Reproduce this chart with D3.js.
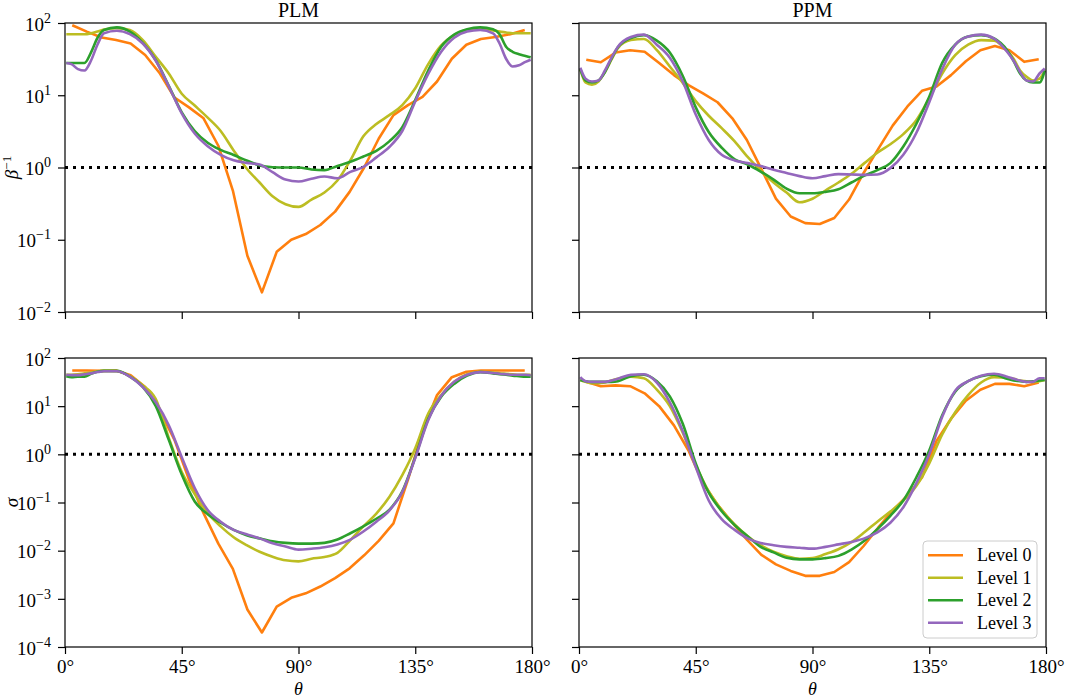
<!DOCTYPE html>
<html><head><meta charset="utf-8">
<script src="https://cdn.jsdelivr.net/npm/d3@7"></script>
<style>
body{margin:0;background:#fff}
svg{display:block}
text{font-family:"Liberation Serif","DejaVu Serif",serif;fill:#000}
</style>
</head><body>
<svg id="chart" width="1065" height="699"></svg>
<script>
// ---------------- DATA ----------------
const levels = ["Level 0", "Level 1", "Level 2", "Level 3"];
const colors = ["#ff7f0e", "#bcbd22", "#2ca02c", "#9467bd"];
const xTicks = [0, 45, 90, 135, 180];
const betaTicks = [-2, -1, 0, 1, 2];
const sigmaTicks = [-4, -3, -2, -1, 0, 1, 2];

// Level 0 cell centres (deg)
const thetaL0 = [2.8,8.4,14.1,19.7,25.3,30.9,36.6,42.2,47.8,53.4,59.1,64.7,70.3,75.9,81.6,87.2,92.8,98.4,104.1,109.7,115.3,120.9,126.6,132.2,137.8,143.4,149.1,154.7,160.3,165.9,171.6,177.2];
// sample angles for levels 1-3 (deg)
const thetaFine = [0.5,2.5,5,7.5,10,12.5,15,20,25,30,35,40,45,50,55,60,65,70,75,80,85,90,95,100,105,110,115,120,125,130,135,140,145,150,155,160,165,167.5,170,172.5,175,177.5,179.5];

// PLM, beta^-1
const plmBeta0 = [93,76,63,58,52,36,20,9.3,6.8,4.8,2.0,0.48,0.06,0.0187,0.068,0.1,0.12,0.16,0.245,0.46,1.0,2.5,5.3,7.3,9.5,15.5,32,50,60,64,70,80];
const plmBeta1 = [70,70,70,70,72,76,81,85,80,58,34,20,10.5,7.2,4.9,3.2,1.72,0.97,0.62,0.4,0.31,0.285,0.36,0.45,0.66,1.26,2.7,4.0,5.3,7.3,12.5,27,49,68,80,82,79,76,74,72,72,72,72];
const plmBeta2 = [28,28,28,28,39,62,80,87,76,53,30.5,13.5,5.8,3.2,2.2,1.75,1.49,1.25,1.07,1.01,1.0,1.0,0.94,0.92,1.05,1.2,1.42,1.7,2.3,3.6,8.6,22,47,69,82,87,82,70,47,40,37,35,33.5];
const plmBeta3 = [28,27,23,22,30,50,72,78,70,52,30,13.3,5.6,2.95,1.97,1.5,1.26,1.16,1.1,0.86,0.68,0.64,0.7,0.75,0.71,0.87,1.02,1.38,1.92,3.2,8.2,19.7,40,62.5,76,80,72,52,32,25,26,29,31];

// PPM, beta^-1
const ppmBeta0 = [31,28.6,39,42,40,28,19,13.8,10.6,8.0,4.8,2.4,0.95,0.37,0.21,0.17,0.165,0.2,0.36,0.84,1.8,3.8,7.0,11.5,13.2,19,29.5,42,48,42,29,31.5];
const ppmBeta1 = [23,15,14,15.5,21,31,45,58,60,42,25,14.8,8.3,5.2,3.5,2.3,1.4,0.91,0.62,0.45,0.33,0.37,0.48,0.62,0.82,1.15,1.6,2.1,2.9,4.5,9.1,20,36,50,58,57,41,32,22,18,16,17,22];
const ppmBeta2 = [23,16,15,16,21,32,46,62,68,57,39,18.5,6.8,3.1,1.88,1.3,1.1,0.88,0.68,0.51,0.44,0.44,0.46,0.5,0.62,0.77,0.92,1.15,1.95,4.0,9.5,28,50,65,68,61,42,30,20,16,15,15,22];
const ppmBeta3 = [24,17,15.5,16,22,33,47,64,69,50,33,15.5,5.4,2.4,1.5,1.25,1.15,1.05,0.93,0.84,0.76,0.71,0.76,0.81,0.8,0.79,0.8,0.98,1.5,3.0,8,23,50,65,69,61,40,30,21,16,15.5,20,23.5];

// PLM, sigma
const plmSigma0 = [55,55,54,55,44,25,8,2.0,0.3,0.06,0.014,0.0042,0.0006,0.0002,0.00069,0.00105,0.0013,0.0018,0.0027,0.0043,0.008,0.016,0.037,0.3,3,17,40,52,55,55,55,55];
const plmSigma1 = [45,45,46,48,50,53,54,53,42,27,14,2.2,0.43,0.15,0.06,0.032,0.019,0.013,0.0095,0.0075,0.0063,0.006,0.0068,0.0074,0.009,0.0166,0.032,0.059,0.13,0.37,1.34,7,17,32,46,52,50,48,47,46,45,45,45];
const plmSigma2 = [42,40,41,41,47,52,54,54,41,25,10,2.0,0.38,0.105,0.057,0.038,0.027,0.021,0.018,0.0157,0.0145,0.014,0.014,0.0145,0.017,0.023,0.032,0.046,0.07,0.17,0.87,5.4,15.7,29,43,51,48,46,45,43,42,41,41];
const plmSigma3 = [45,44,44,46,48,51,53,53,41,25,12,4,0.87,0.2,0.07,0.04,0.027,0.022,0.018,0.0142,0.0122,0.0105,0.011,0.0118,0.0135,0.017,0.025,0.04,0.068,0.165,0.84,5.1,16.5,32,45,51,49,47,46,45,45,45,44];

// PPM, sigma
const ppmSigma0 = [32,26,27,26,18.5,10,4.0,1.2,0.25,0.09,0.038,0.017,0.0082,0.0052,0.0038,0.003,0.003,0.0036,0.0058,0.0125,0.03,0.068,0.14,0.33,1.9,5.5,13,22,29,29,26,31];
const ppmSigma1 = [35,32,30,30,31,34,37,41,38,22,10,2.8,0.6,0.17,0.07,0.035,0.02,0.013,0.0095,0.0077,0.0068,0.007,0.0085,0.0107,0.015,0.024,0.04,0.065,0.11,0.22,0.65,2.6,7.5,17,31,40,39,37,34,33,32,33,35];
const ppmSigma2 = [35,33,32,32,32,32,33,42,45,33,16,4.3,0.65,0.16,0.066,0.034,0.02,0.012,0.0092,0.0071,0.0066,0.0066,0.007,0.0078,0.0105,0.016,0.028,0.053,0.11,0.33,1.2,6.5,20,33,42,45,37,34,33,32,33,34,35];
const ppmSigma3 = [40,33,32,32,32,34,37,45,46,31,12,3,0.55,0.11,0.045,0.027,0.018,0.0145,0.013,0.012,0.0115,0.011,0.012,0.0135,0.0152,0.018,0.024,0.038,0.08,0.25,1.0,6,21,33,43,47,41,37,34,32,32,38,38];

// ---------------- LAYOUT ----------------
const svg = d3.select("#chart");
const colsX = [[65, 532], [579, 1046]];
const rowsY = [[23, 312], [358, 647]];
const FS = 19;

const panels = [
  {c:0, r:0, title:"PLM", dom:[1e-2,1e2], ticks:betaTicks, data:[plmBeta0,plmBeta1,plmBeta2,plmBeta3], ylabel:"beta"},
  {c:1, r:0, title:"PPM", dom:[1e-2,1e2], ticks:betaTicks, data:[ppmBeta0,ppmBeta1,ppmBeta2,ppmBeta3]},
  {c:0, r:1, dom:[1e-4,1e2], ticks:sigmaTicks, data:[plmSigma0,plmSigma1,plmSigma2,plmSigma3], ylabel:"sigma"},
  {c:1, r:1, dom:[1e-4,1e2], ticks:sigmaTicks, data:[ppmSigma0,ppmSigma1,ppmSigma2,ppmSigma3], legend:true}
];

panels.forEach((p, pi) => {
  const [x0, x1] = colsX[p.c];
  const [y0, y1] = rowsY[p.r];
  const x = d3.scaleLinear().domain([0, 180]).range([x0, x1]);
  const y = d3.scaleLog().domain(p.dom).range([y1, y0]);
  const g = svg.append("g");

  const clipId = "clip" + pi;
  svg.append("clipPath").attr("id", clipId).append("rect")
    .attr("x", x0).attr("y", y0).attr("width", x1 - x0).attr("height", y1 - y0);

  // reference line at 1
  g.append("line")
    .attr("x1", x(0)).attr("x2", x(180)).attr("y1", y(1)).attr("y2", y(1))
    .attr("stroke", "#000").attr("stroke-width", 3).attr("stroke-dasharray", "3,5");

  // series
  const lines = g.append("g").attr("clip-path", `url(#${clipId})`);
  p.data.forEach((vals, li) => {
    const th = li === 0 ? thetaL0 : thetaFine;
    const pts = vals.map((v, i) => [th[i], v]);
    const line = d3.line()
      .x(d => x(d[0])).y(d => y(d[1]))
      .curve(li === 0 ? d3.curveLinear : d3.curveMonotoneX);
    lines.append("path").datum(pts)
      .attr("d", line).attr("fill", "none")
      .attr("stroke", colors[li]).attr("stroke-width", 2.6)
      .attr("stroke-linejoin", "round").attr("stroke-linecap", "butt");
  });

  // x axis
  const xa = g.append("g").attr("transform", `translate(0,${y1})`)
    .call(d3.axisBottom(x).tickValues(xTicks).tickSize(7).tickPadding(6)
      .tickFormat(d => p.r === 1 ? d + "°" : ""));
  xa.select(".domain").remove();
  xa.selectAll(".tick line").attr("stroke", "#000").attr("stroke-width", 1.2);
  xa.selectAll(".tick text").attr("font-size", FS).attr("font-family", "Liberation Serif");

  // y axis
  const ya = g.append("g").attr("transform", `translate(${x0},0)`)
    .call(d3.axisLeft(y).tickValues(p.ticks.map(e => Math.pow(10, e))).tickSize(7).tickPadding(7)
      .tickFormat(""));
  ya.select(".domain").remove();
  ya.selectAll(".tick line").attr("stroke", "#000").attr("stroke-width", 1.2);
  if (p.c === 0) {
    ya.selectAll(".tick text").each(function(d) {
      const t = d3.select(this);
      const e = Math.round(Math.log10(d));
      t.text(null).attr("font-size", FS).attr("font-family", "Liberation Serif").attr("dy", "0.38em");
      t.append("tspan").text("10");
      t.append("tspan").attr("dy", -8).attr("font-size", 14).text(e < 0 ? "\u2212" + (-e) : String(e));
    });
  }

  // frame
  g.append("rect").attr("x", x0).attr("y", y0).attr("width", x1 - x0).attr("height", y1 - y0)
    .attr("fill", "none").attr("stroke", "#000").attr("stroke-width", 1.2);

  // title
  if (p.title) {
    g.append("text").attr("x", (x0 + x1) / 2).attr("y", 17).attr("text-anchor", "middle")
      .attr("font-size", 20).text(p.title);
  }
  // x label
  if (p.r === 1) {
    g.append("text").attr("x", (x0 + x1) / 2).attr("y", 695).attr("text-anchor", "middle")
      .attr("font-size", 18).attr("font-style", "italic").text("θ");
  }
  // y label
  if (p.ylabel) {
    const cy = (y0 + y1) / 2;
    const t = g.append("text").attr("transform", `translate(18,${cy}) rotate(-90)`)
      .attr("text-anchor", "middle").attr("font-size", FS);
    if (p.ylabel === "beta") {
      t.append("tspan").attr("font-style", "italic").text("β");
      t.append("tspan").attr("dy", -7).attr("font-size", 13).text("\u22121");
    } else {
      t.append("tspan").attr("font-style", "italic").text("σ");
    }
  }

  // legend
  if (p.legend) {
    const lg = g.append("g");
    lg.append("rect").attr("x", 923).attr("y", 541).attr("width", 114).attr("height", 97)
      .attr("rx", 4).attr("fill", "#fff").attr("fill-opacity", 0.8)
      .attr("stroke", "#cccccc").attr("stroke-width", 1);
    levels.forEach((name, i) => {
      const ly = 555.3 + i * 22.5;
      lg.append("line").attr("x1", 928).attr("x2", 963).attr("y1", ly).attr("y2", ly)
        .attr("stroke", colors[i]).attr("stroke-width", 2.6);
      lg.append("text").attr("x", 977).attr("y", ly + 6).attr("font-size", 18).text(name);
    });
  }
});
</script>
</body></html>
